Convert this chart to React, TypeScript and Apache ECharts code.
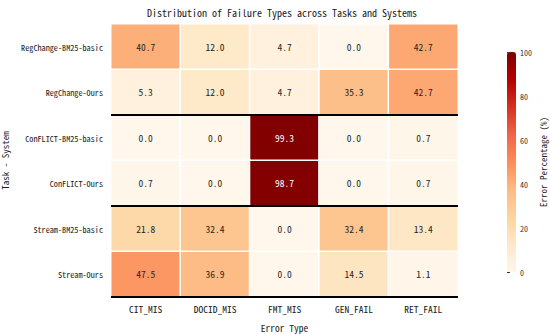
import React, { useEffect, useRef } from "react";
import * as echarts from "echarts";

const rows = [
  "RegChange-BM25-basic",
  "RegChange-Ours",
  "ConFLICT-BM25-basic",
  "ConFLICT-Ours",
  "Stream-BM25-basic",
  "Stream-Ours",
];
const cols = ["CIT_MIS", "DOCID_MIS", "FMT_MIS", "GEN_FAIL", "RET_FAIL"];
const regBm25 = [40.7, 12.0, 4.7, 0.0, 42.7];
const regOurs = [5.3, 12.0, 4.7, 35.3, 42.7];
const conBm25 = [0.0, 0.0, 99.3, 0.0, 0.7];
const conOurs = [0.7, 0.0, 98.7, 0.0, 0.7];
const strBm25 = [21.8, 32.4, 0.0, 32.4, 13.4];
const strOurs = [47.5, 36.9, 0.0, 14.5, 1.1];
const matrix = [regBm25, regOurs, conBm25, conOurs, strBm25, strOurs];
const groupBreaks = [2, 4];
const colorbarTicks = [0, 20, 40, 60, 80, 100];

const FONT = "'Noto Sans Mono CJK SC', 'DejaVu Sans Mono', monospace";
const ORRD = ["#fff7ec", "#fee8c8", "#fdd49e", "#fdbb84", "#fc8d59", "#ef6548", "#d7301f", "#b30000", "#7f0000"];

export default function App() {
  const ref = useRef<HTMLDivElement>(null);
  useEffect(() => {
    if (!ref.current) return;
    const chart = echarts.init(ref.current, undefined, { renderer: "svg" });
    const data: any[] = [];
    matrix.forEach((r, ri) =>
      r.forEach((v, ci) => {
        data.push({
          value: [ci, ri, v],
          label: { color: v > 60 ? "#ffffff" : "#262626" },
        });
      })
    );
    chart.setOption({
      animation: false,
      backgroundColor: "#ffffff",
      textStyle: { fontFamily: FONT },
      title: {
        text: "Distribution of Failure Types across Tasks and Systems",
        left: 142,
        top: 2,
        textStyle: { fontFamily: FONT, fontSize: 10, fontWeight: "normal", color: "#1a1a1a" },
      },
      grid: [
        { left: 111, right: 92, top: 24, bottom: 37, outerBoundsMode: "none", containLabel: false },
        { left: 507, width: 9, top: 52, height: 220, outerBoundsMode: "none", containLabel: false },
      ],
      xAxis: [
        {
          type: "category",
          data: cols,
          gridIndex: 0,
          axisLine: { show: false },
          axisTick: { show: false },
          axisLabel: { fontFamily: FONT, fontSize: 9.5, color: "#1a1a1a", margin: 7 },
          name: "Error Type",
          nameLocation: "middle",
          nameGap: 26,
          nameTextStyle: { fontFamily: FONT, fontSize: 9.5, color: "#1a1a1a" },
        },
        { type: "value", gridIndex: 1, show: false, min: 0, max: 1 },
      ],
      yAxis: [
        {
          type: "category",
          data: rows,
          inverse: true,
          gridIndex: 0,
          z: 5,
          axisLine: { show: false },
          axisTick: { show: false },
          axisLabel: { fontFamily: FONT, fontSize: 8.2, color: "#1a1a1a", margin: 8 },
          splitLine: {
            show: true,
            interval: (index: number) => groupBreaks.indexOf(index) >= 0,
            lineStyle: { color: "#000000", width: 2 },
          },
          name: "Task - System",
          nameLocation: "middle",
          nameGap: 97,
          nameRotate: 90,
          nameTextStyle: { fontFamily: FONT, fontSize: 9, color: "#1a1a1a", lineHeight: 10 },
        },
        {
          type: "value",
          gridIndex: 1,
          position: "right",
          min: 0,
          max: 100,
          interval: 20,
          axisLine: { show: false },
          axisTick: { show: true, length: 3, lineStyle: { color: "#333" } },
          splitLine: { show: false },
          axisLabel: { fontFamily: FONT, fontSize: 8, color: "#333", margin: 4 },
          name: "Error Percentage (%)",
          nameLocation: "middle",
          nameGap: 22,
          nameRotate: 90,
          nameTextStyle: { fontFamily: FONT, fontSize: 9, color: "#1a1a1a", lineHeight: 10 },
        },
      ],
      visualMap: {
        type: "continuous",
        min: 0,
        max: 100,
        seriesIndex: 0,
        calculable: false,
        show: true,
        left: 507,
        top: 52,
        itemWidth: 9,
        itemHeight: 220,
        padding: 0,
        text: ["", ""],
        showLabel: false,
        inRange: { color: ORRD },
      },
      series: [
        {
          type: "heatmap",
          xAxisIndex: 0,
          yAxisIndex: 0,
          data,
          itemStyle: { borderColor: "#ffffff", borderWidth: 1.5 },
          label: {
            show: true,
            fontFamily: FONT,
            fontSize: 9.5,
            formatter: (p: any) => p.value[2].toFixed(1),
          },
          emphasis: { disabled: true },
        },
        {
          type: "scatter",
          xAxisIndex: 1,
          yAxisIndex: 1,
          data: colorbarTicks.map(() => null),
          symbolSize: 0,
          silent: true,
        },
      ],
    });
    return () => chart.dispose();
  }, []);
  return (
    <div
      ref={ref}
      style={{ position: "absolute", left: 0, top: 0, width: 550, height: 334 }}
    />
  );
}
